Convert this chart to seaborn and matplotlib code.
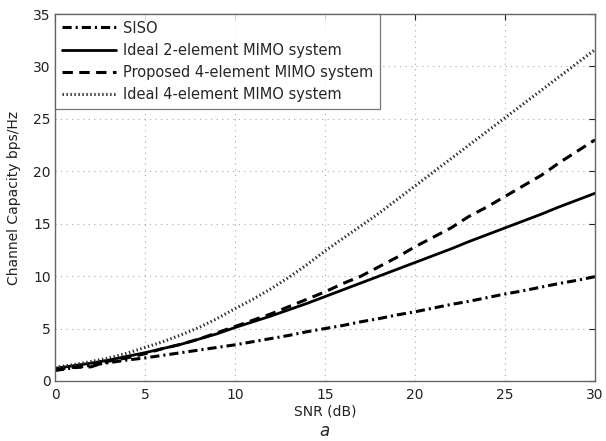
import numpy as np
import pandas as pd
import matplotlib
matplotlib.use("Agg")
import matplotlib.pyplot as plt
import seaborn as sns

snr_db = list(range(0, 31))

siso = [1.0, 1.25, 1.5, 1.75, 2.0, 2.2, 2.45, 2.7, 2.95, 3.2, 3.45,
        3.75, 4.05, 4.35, 4.7, 5.0, 5.3, 5.65, 5.95, 6.3, 6.6,
        6.95, 7.3, 7.6, 7.95, 8.3, 8.6, 8.95, 9.3, 9.6, 9.95]

ideal_2 = [1.2, 1.45, 1.7, 2.0, 2.35, 2.7, 3.1, 3.5, 4.0, 4.5, 5.1,
           5.65, 6.2, 6.8, 7.4, 8.05, 8.7, 9.35, 10.0, 10.65, 11.3,
           11.95, 12.6, 13.3, 13.95, 14.6, 15.25, 15.9, 16.6, 17.25, 17.9]

proposed_4 = [1.1, 1.3, 1.35, 1.9, 2.2, 2.6, 3.1, 3.5, 4.0, 4.6, 5.2,
              5.8, 6.4, 7.1, 7.8, 8.5, 9.3, 10.0, 10.9, 11.8, 12.8,
              13.7, 14.6, 15.7, 16.6, 17.6, 18.6, 19.6, 20.8, 21.9, 23.0]

ideal_4 = [1.3, 1.55, 1.85, 2.2, 2.65, 3.2, 3.75, 4.4, 5.1, 5.95, 6.9,
           7.8, 8.8, 9.9, 11.1, 12.4, 13.6, 14.8, 16.0, 17.3, 18.6,
           19.9, 21.2, 22.5, 23.8, 25.1, 26.4, 27.7, 29.0, 30.3, 31.6]

labels = ["SISO", "Ideal 2-element MIMO system",
          "Proposed 4-element MIMO system", "Ideal 4-element MIMO system"]
x_ticks = [0, 5, 10, 15, 20, 25, 30]
y_ticks = [0, 5, 10, 15, 20, 25, 30, 35]

sns.set_style("white")
plt.rcParams['font.family'] = ['DejaVu Sans']

fig = plt.figure(figsize=(6.06, 4.41), dpi=100)
ax = fig.add_axes([55 / 606, 1 - 381 / 441, 540 / 606, 367 / 441])

series = [siso, ideal_2, proposed_4, ideal_4]
styles = [
    dict(lw=2.2, ls=(0, (3.0, 1.3, 0.7, 1.3)), c="black"),
    dict(lw=2.0, ls="-", c="black"),
    dict(lw=2.2, ls=(0, (3.4, 2.1)), c="black"),
    dict(lw=2.2, ls=(0, (0.45, 0.85)), c="#2a2a2a"),
]
for vals, lab, st in zip(series, labels, styles):
    df = pd.DataFrame({"snr": snr_db, "cap": vals})
    sns.lineplot(data=df, x="snr", y="cap", ax=ax, color=st["c"],
                 label=lab, linewidth=st["lw"], linestyle=st["ls"])

ax.set_xlim(0, 30)
ax.set_ylim(0, 35)
ax.set_xticks(x_ticks)
ax.set_yticks(y_ticks)
ax.grid(True, color="#a8a8a8", linestyle=(0, (1, 4)), linewidth=0.8)
ax.tick_params(direction="in", length=4, width=0.8, top=True, right=True,
               labelsize=10, colors="#222222")
ax.tick_params(axis="x", pad=5)
ax.tick_params(axis="y", pad=3)
for s in ax.spines.values():
    s.set_color("#666666")
    s.set_linewidth(1.0)

ax.set_xlabel("SNR (dB)", fontsize=10, color="#222222")
ax.set_ylabel("Channel Capacity bps/Hz", fontsize=10, color="#222222")
ax.xaxis.set_label_coords(0.5, -0.065)
ax.yaxis.set_label_coords(-0.076, 0.5)
ax.xaxis.label.set_va("top")
ax.yaxis.label.set_va("center")

leg = ax.legend(loc="upper left", borderaxespad=0, fontsize=10.5,
                handlelength=3.7, handletextpad=0.5, labelspacing=0.5,
                frameon=True, fancybox=False, borderpad=0.45)
leg.get_frame().set_edgecolor("#555555")
leg.get_frame().set_linewidth(0.9)

fig.text(324 / 606, 1 - 431 / 441, "a", fontsize=12, style="italic",
         ha="center", va="center", color="#222222")

fig.savefig("out.png", dpi=100)
